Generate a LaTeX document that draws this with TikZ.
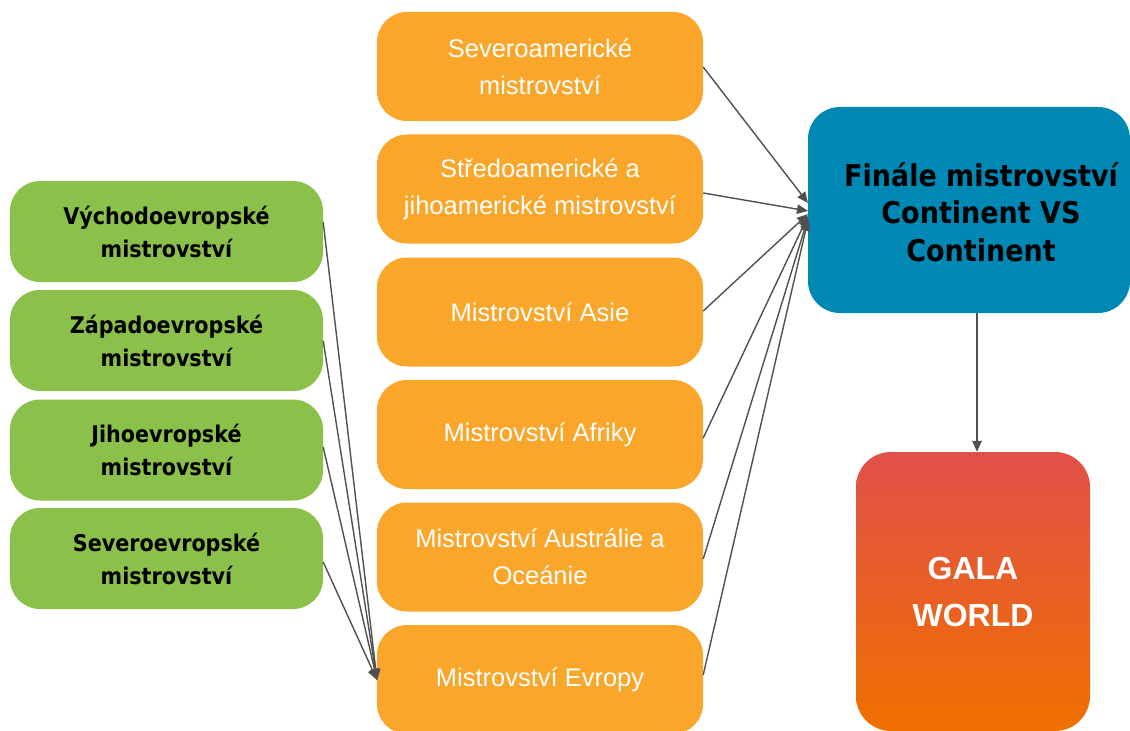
\documentclass[tikz,border=0pt]{standalone}
\usepackage{fontspec}
\setmainfont{Liberation Sans}
\newfontfamily\gfont[FakeStretch=0.9]{DejaVu Sans}
\usetikzlibrary{arrows.meta}
\definecolor{ggreen}{HTML}{8BC14A}
\definecolor{gorange}{HTML}{F9A62A}
\definecolor{gblue}{HTML}{0088B5}
\definecolor{galatop}{HTML}{E0504A}
\definecolor{galabot}{HTML}{F07000}
\definecolor{arr}{HTML}{505050}
\tikzset{
  orangebox/.style={fill=gorange, rounded corners=30bp, minimum width=326bp, minimum height=109bp,
    inner sep=0pt, text=white, align=center, font=\fontsize{25.5bp}{37bp}\selectfont},
  greenbox/.style={fill=ggreen, rounded corners=30bp, minimum width=313bp, minimum height=101bp,
    inner sep=0pt, text=black, align=center, font=\gfont\bfseries\fontsize{23bp}{33bp}\selectfont},
  bluebox/.style={fill=gblue, rounded corners=32bp, minimum width=322bp, minimum height=206bp, inner sep=0pt},
  galabox/.style={top color=galatop, bottom color=galabot, rounded corners=35bp, minimum width=234bp,
    minimum height=279bp, inner sep=0pt, text=white, align=center,
    font=\bfseries\fontsize{32bp}{47bp}\selectfont},
  bluetext/.style={text=black, align=center, font=\gfont\bfseries\fontsize{30bp}{37.5bp}\selectfont},
  conn/.style={draw=arr, line width=1.4bp, -{Triangle[length=11bp,width=9.5bp]}}
}
\begin{document}
\begin{tikzpicture}[x=1bp,y=-1bp]
\useasboundingbox (0,0) rectangle (1130,731);
% orange column
\node[orangebox] (o1) at (540,66.5) {Severoamerické\\mistrovství};
\node[orangebox] (o2) at (540,189) {Středoamerické a\\jihoamerické mistrovství};
\node[orangebox] (o3) at (540,312) {Mistrovství Asie};
\node[orangebox] (o4) at (540,434.5) {Mistrovství Afriky};
\node[orangebox] (o5) at (540,557) {Mistrovství Austrálie a\\Oceánie};
\node[orangebox] (o6) at (540,679.5) {Mistrovství Evropy};
% green column
\node[greenbox] (g1) at (166.5,231.5) {Východoevropské\\mistrovství};
\node[greenbox] (g2) at (166.5,340.5) {Západoevropské\\mistrovství};
\node[greenbox] (g3) at (166.5,450) {Jihoevropské\\mistrovství};
\node[greenbox] (g4) at (166.5,558.5) {Severoevropské\\mistrovství};
% final
\node[bluebox] (fin) at (969,210) {};
\node[bluetext] (fint) at (981,212) {Finále mistrovství\\Continent VS\\Continent};
\node[galabox] (gala) at (973,591.5) {GALA\\WORLD};
% arrow end points
\coordinate (e1) at (808,203);
\coordinate (e2) at (808,211);
\coordinate (e3) at (808,214);
\coordinate (e4) at (808,216);
\coordinate (e5) at (808,218);
\coordinate (e6) at (808,220);
\coordinate (ev) at (377,680);
% orange -> final
\draw[conn] (o1.east |- 0,67) -- (e1);
\draw[conn] (o2.east |- 0,193) -- (e2);
\draw[conn] (o3.east |- 0,311) -- (e3);
\draw[conn] (o4.east |- 0,438) -- (e4);
\draw[conn] (o5.east |- 0,559) -- (e5);
\draw[conn] (o6.east |- 0,675) -- (e6);
% green -> Evropa
\draw[conn] (g1.east |- 0,222) -- (ev);
\draw[conn] (g2.east |- 0,341) -- (ev);
\draw[conn] (g3.east |- 0,447) -- (ev);
\draw[conn] (g4.east |- 0,562) -- (ev);
% final -> gala
\draw[conn] (fin.south -| 977,0) -- (gala.north -| 977,0);
\end{tikzpicture}
\end{document}
